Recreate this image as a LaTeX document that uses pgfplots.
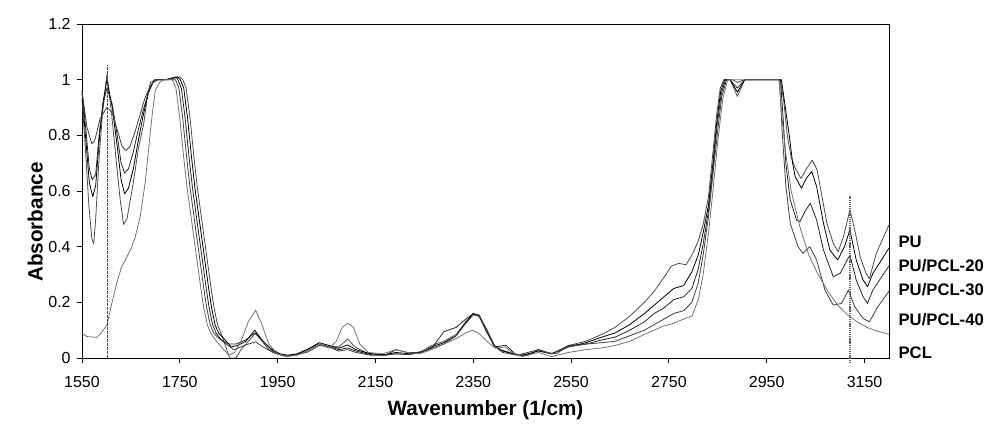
\documentclass[border=0pt]{standalone}
\usepackage{pgfplots}
\pgfplotsset{compat=1.18}
\usepackage{fontspec}
\setmainfont{Liberation Sans}
\begin{document}
\begin{tikzpicture}
\path[use as bounding box] (-61.5pt,-57pt) rectangle (678.75pt,268.5pt);
\begin{axis}[
  scale only axis, width=605.25pt, height=250.5pt,
  at={(0,0)}, anchor=south west,
  xmin=1550, xmax=3200, ymin=0, ymax=1.2,
  xtick={1550,1750,1950,2150,2350,2550,2750,2950,3150},
  xticklabels={1550,1750,1950,2150,2350,2550,2750,2950,3150},
  ytick={0,0.2,0.4,0.6,0.8,1,1.2},
  yticklabels={0,0.2,0.4,0.6,0.8,1,1.2},
  tick align=outside, tick pos=left, major tick length=4pt,
  axis line style={line width=0.7pt}, tick style={line width=0.7pt, black},
  clip=false,
  ticklabel style={font=\fontsize{12}{14}\selectfont},
  xticklabel style={yshift=-6pt},
  yticklabel style={xshift=-1pt},
  xlabel={\textbf{Wavenumber (1/cm)}},
  ylabel={\textbf{Absorbance}},
  label style={font=\fontsize{15.5}{18}\selectfont},
  xlabel style={at={(axis description cs:0.5,0)}, anchor=center, yshift=-39pt},
  ylabel style={at={(axis description cs:-0.058,0.407)}, anchor=center},
  every axis plot/.append style={line width=0.6pt, line join=round},
]
% PU
\addplot[black!70] coordinates {
(1550,0.93)(1557,0.75)(1564,0.55)(1570,0.43)(1574,0.41)(1578,0.50)(1585,0.72)(1592,0.88)(1601,1.02)(1611,0.87)(1621,0.69)(1628,0.57)(1635,0.48)(1642,0.50)(1648,0.56)(1655,0.63)(1665,0.75)(1676,0.84)(1683,0.93)(1690,0.99)(1700,1.0)(1720,1.0)(1738,1.005)(1750,1.01)(1756,1.0)(1763,0.97)(1771,0.86)(1779,0.72)(1786,0.61)(1793,0.52)(1800,0.43)(1807,0.34)(1814,0.25)(1820,0.18)(1827,0.12)(1834,0.09)(1840,0.06)(1846,0.03)(1852,0.0)(1865,0.0)(1875,0.03)(1890,0.06)(1905,0.09)(1918,0.06)(1932,0.03)(1950,0.015)(1968,0.005)(1990,0.015)(2010,0.03)(2035,0.05)(2055,0.04)(2075,0.04)(2093,0.068)(2108,0.04)(2130,0.02)(2160,0.01)(2192,0.015)(2220,0.012)(2245,0.025)(2265,0.045)(2290,0.06)(2315,0.085)(2335,0.13)(2350,0.16)(2362,0.155)(2375,0.11)(2390,0.05)(2405,0.03)(2425,0.02)(2445,0.008)(2470,0.015)(2483,0.03)(2500,0.02)(2520,0.015)(2545,0.045)(2580,0.06)(2613,0.085)(2640,0.11)(2670,0.15)(2700,0.20)(2720,0.24)(2740,0.29)(2755,0.33)(2770,0.34)(2785,0.335)(2797,0.37)(2810,0.42)(2820,0.48)(2831,0.58)(2840,0.74)(2848,0.88)(2855,0.97)(2862,1.0)(2875,1.0)(2890,0.94)(2905,1.0)(2978,1.0)(2985,0.92)(2992,0.80)(3000,0.72)(3009,0.68)(3020,0.645)(3030,0.676)(3043,0.711)(3053,0.676)(3063,0.58)(3073,0.484)(3086,0.412)(3096,0.382)(3107,0.436)(3120,0.532)(3130,0.46)(3141,0.364)(3153,0.304)(3160,0.286)(3174,0.376)(3200,0.478)
};
% PU/PCL-20
\addplot[black] coordinates {
(1550,0.95)(1558,0.78)(1565,0.63)(1572,0.58)(1578,0.62)(1586,0.80)(1593,0.92)(1601,1.0)(1612,0.90)(1622,0.76)(1630,0.64)(1637,0.59)(1645,0.61)(1655,0.68)(1665,0.78)(1675,0.87)(1685,0.95)(1695,0.99)(1705,1.0)(1725,1.0)(1745,1.01)(1751,1.0)(1758,0.97)(1766,0.86)(1774,0.72)(1781,0.61)(1788,0.52)(1795,0.43)(1802,0.34)(1809,0.25)(1815,0.18)(1822,0.12)(1829,0.09)(1840,0.07)(1855,0.04)(1868,0.045)(1885,0.06)(1903,0.10)(1918,0.065)(1935,0.035)(1955,0.015)(1970,0.01)(1990,0.015)(2010,0.03)(2035,0.055)(2055,0.045)(2075,0.035)(2093,0.047)(2110,0.03)(2140,0.015)(2170,0.012)(2192,0.02)(2220,0.015)(2245,0.02)(2265,0.04)(2290,0.055)(2315,0.08)(2335,0.13)(2350,0.158)(2362,0.15)(2378,0.10)(2392,0.045)(2410,0.025)(2430,0.015)(2450,0.01)(2483,0.025)(2510,0.015)(2545,0.04)(2580,0.055)(2613,0.075)(2640,0.09)(2670,0.12)(2700,0.16)(2720,0.19)(2740,0.22)(2760,0.25)(2780,0.26)(2797,0.31)(2810,0.37)(2820,0.45)(2831,0.55)(2840,0.70)(2848,0.85)(2856,0.96)(2864,1.0)(2875,1.0)(2890,0.955)(2905,1.0)(2980,1.0)(2988,0.90)(2996,0.80)(3003,0.70)(3008,0.652)(3021,0.61)(3031,0.646)(3042,0.67)(3052,0.616)(3066,0.484)(3079,0.388)(3095,0.352)(3109,0.40)(3120,0.46)(3133,0.352)(3147,0.28)(3156,0.256)(3167,0.304)(3200,0.395)
};
% PU/PCL-30
\addplot[black!85] coordinates {
(1550,0.96)(1558,0.82)(1565,0.68)(1571,0.64)(1578,0.66)(1586,0.82)(1594,0.92)(1601,0.97)(1612,0.91)(1622,0.80)(1630,0.70)(1637,0.665)(1645,0.68)(1655,0.74)(1665,0.82)(1675,0.89)(1687,0.96)(1698,1.0)(1720,1.0)(1742,1.01)(1746,1.0)(1753,0.97)(1761,0.86)(1769,0.72)(1776,0.61)(1783,0.52)(1790,0.43)(1797,0.34)(1804,0.25)(1810,0.18)(1817,0.12)(1824,0.09)(1835,0.065)(1850,0.05)(1865,0.05)(1885,0.065)(1903,0.09)(1920,0.06)(1940,0.025)(1960,0.01)(1985,0.01)(2010,0.025)(2035,0.05)(2055,0.04)(2075,0.03)(2093,0.036)(2110,0.025)(2140,0.012)(2170,0.01)(2192,0.03)(2215,0.02)(2240,0.02)(2265,0.035)(2290,0.095)(2315,0.11)(2335,0.14)(2350,0.16)(2362,0.15)(2378,0.09)(2395,0.04)(2417,0.046)(2435,0.015)(2460,0.008)(2483,0.03)(2510,0.015)(2545,0.045)(2580,0.05)(2613,0.065)(2640,0.075)(2670,0.10)(2700,0.13)(2720,0.16)(2740,0.18)(2760,0.21)(2780,0.22)(2797,0.25)(2810,0.32)(2820,0.41)(2831,0.53)(2840,0.68)(2848,0.83)(2857,0.95)(2866,1.0)(2875,1.0)(2890,0.97)(2905,1.0)(2978,1.0)(2984,0.85)(2989,0.70)(2998,0.568)(3011,0.496)(3018,0.49)(3028,0.526)(3039,0.556)(3052,0.496)(3066,0.388)(3086,0.292)(3100,0.304)(3120,0.37)(3133,0.28)(3147,0.22)(3156,0.196)(3167,0.244)(3200,0.331)
};
% PU/PCL-40
\addplot[black!75] coordinates {
(1550,0.96)(1560,0.83)(1570,0.77)(1576,0.78)(1587,0.86)(1601,0.90)(1612,0.88)(1622,0.82)(1632,0.76)(1640,0.745)(1648,0.76)(1658,0.81)(1668,0.87)(1678,0.93)(1690,0.98)(1702,1.0)(1720,1.0)(1741,1.0)(1748,0.97)(1756,0.86)(1764,0.72)(1771,0.61)(1778,0.52)(1785,0.43)(1792,0.34)(1799,0.25)(1805,0.18)(1812,0.12)(1819,0.09)(1830,0.07)(1845,0.05)(1860,0.03)(1875,0.04)(1890,0.05)(1905,0.058)(1920,0.04)(1940,0.02)(1960,0.008)(1985,0.01)(2010,0.02)(2035,0.045)(2055,0.04)(2075,0.025)(2093,0.03)(2110,0.02)(2140,0.01)(2170,0.01)(2192,0.015)(2215,0.012)(2240,0.018)(2265,0.035)(2290,0.05)(2315,0.08)(2335,0.125)(2350,0.155)(2362,0.15)(2378,0.10)(2395,0.04)(2410,0.02)(2440,0.01)(2483,0.03)(2510,0.015)(2545,0.04)(2580,0.05)(2613,0.055)(2640,0.06)(2670,0.08)(2700,0.10)(2720,0.12)(2740,0.14)(2760,0.16)(2780,0.17)(2797,0.20)(2810,0.27)(2820,0.37)(2831,0.51)(2840,0.66)(2850,0.82)(2858,0.94)(2868,1.0)(2880,1.0)(2890,0.99)(2905,1.0)(2976,1.0)(2982,0.80)(2989,0.62)(2998,0.484)(3014,0.40)(3024,0.376)(3038,0.40)(3052,0.352)(3069,0.244)(3086,0.19)(3103,0.196)(3117,0.244)(3130,0.184)(3147,0.142)(3160,0.13)(3177,0.184)(3200,0.24)
};
% PCL
\addplot[black!55] coordinates {
(1550,0.089)(1560,0.077)(1580,0.074)(1590,0.091)(1601,0.119)(1611,0.196)(1621,0.268)(1631,0.328)(1642,0.364)(1652,0.40)(1659,0.436)(1669,0.508)(1679,0.628)(1686,0.747)(1693,0.867)(1700,0.963)(1710,0.993)(1720,1.0)(1735,1.0)(1742,0.97)(1750,0.86)(1758,0.72)(1765,0.61)(1772,0.52)(1779,0.43)(1786,0.34)(1793,0.25)(1799,0.18)(1806,0.12)(1813,0.09)(1825,0.06)(1840,0.03)(1850,0.01)(1862,0.02)(1875,0.06)(1890,0.13)(1905,0.172)(1918,0.12)(1932,0.05)(1950,0.015)(1970,0.005)(1990,0.01)(2010,0.025)(2035,0.05)(2055,0.035)(2070,0.06)(2082,0.11)(2093,0.125)(2105,0.11)(2118,0.05)(2135,0.02)(2165,0.015)(2192,0.03)(2215,0.02)(2240,0.015)(2265,0.03)(2290,0.05)(2315,0.07)(2335,0.09)(2348,0.10)(2360,0.09)(2378,0.06)(2395,0.035)(2415,0.04)(2430,0.02)(2450,0.005)(2483,0.02)(2510,0.005)(2545,0.02)(2580,0.03)(2613,0.036)(2640,0.045)(2670,0.06)(2700,0.085)(2720,0.10)(2736,0.113)(2760,0.125)(2780,0.14)(2797,0.15)(2810,0.21)(2820,0.30)(2831,0.45)(2840,0.60)(2850,0.78)(2860,0.93)(2870,1.0)(2975,1.0)(2982,0.85)(2990,0.72)(3000,0.60)(3018,0.47)(3036,0.37)(3055,0.30)(3075,0.24)(3095,0.19)(3115,0.155)(3135,0.13)(3155,0.11)(3175,0.097)(3200,0.085)
};
% marker lines
\addplot[black!70, line width=0.6pt, dash pattern=on 2pt off 1pt] coordinates {(1601,0) (1601,1.053)};
\addplot[black!60, line width=1.3pt, dash pattern=on 1pt off 0.6pt] coordinates {(3120,-0.018) (3120,0.582)};
% right labels
\node[anchor=west, font=\fontsize{12.5}{14}\selectfont\bfseries, inner sep=0pt] at (axis cs:3200,0.417) [xshift=7pt] {PU};
\node[anchor=west, font=\fontsize{12.5}{14}\selectfont\bfseries, inner sep=0pt] at (axis cs:3200,0.331) [xshift=7pt] {PU/PCL-20};
\node[anchor=west, font=\fontsize{12.5}{14}\selectfont\bfseries, inner sep=0pt] at (axis cs:3200,0.244) [xshift=7pt] {PU/PCL-30};
\node[anchor=west, font=\fontsize{12.5}{14}\selectfont\bfseries, inner sep=0pt] at (axis cs:3200,0.137) [xshift=7pt] {PU/PCL-40};
\node[anchor=west, font=\fontsize{12.5}{14}\selectfont\bfseries, inner sep=0pt] at (axis cs:3200,0.018) [xshift=7pt] {PCL};
\end{axis}
\end{tikzpicture}
\end{document}
